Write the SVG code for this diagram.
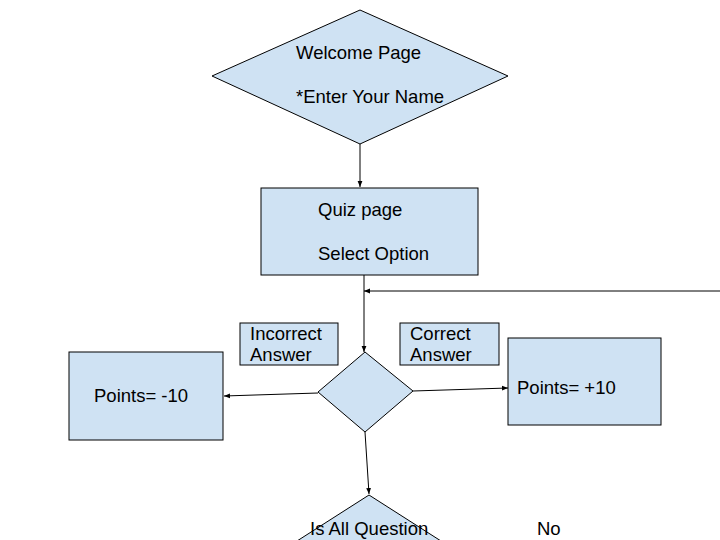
<svg xmlns="http://www.w3.org/2000/svg" width="720" height="540" viewBox="0 0 720 540">
<defs>
<style>
.n{fill:#cfe2f3;stroke:#000;stroke-width:1}
.t{font-family:"Liberation Sans",Arial,sans-serif;font-size:18.5px;fill:#000}
.c{fill:none;stroke:#000;stroke-width:1}
</style>
<marker id="ah" viewBox="0 0 10 10" refX="10" refY="5" markerWidth="6" markerHeight="6" orient="auto" markerUnits="userSpaceOnUse">
<path d="M0,1 L10,5 L0,9 Z" fill="#000"/>
</marker>
</defs>
<rect width="720" height="540" fill="#fff"/>
<g id="connectors">
<line class="c" x1="360" y1="144" x2="360" y2="187" marker-end="url(#ah)"/>
<line class="c" x1="364" y1="275" x2="364" y2="352" marker-end="url(#ah)"/>
<line class="c" x1="720" y1="291" x2="364" y2="291" marker-end="url(#ah)"/>
<line class="c" x1="318" y1="393" x2="224" y2="396" marker-end="url(#ah)"/>
<line class="c" x1="413" y1="391" x2="508" y2="388" marker-end="url(#ah)"/>
<line class="c" x1="365" y1="432" x2="369" y2="494" marker-end="url(#ah)"/>
</g>
<g id="welcome">
<polygon class="n" points="360,10 508,76 360,144 212,76"/>
<text class="t" x="296" y="59">Welcome Page</text>
<text class="t" x="296" y="103">*Enter Your Name</text>
</g>
<g id="quiz">
<rect class="n" x="261" y="188" width="217" height="87"/>
<text class="t" x="318" y="216">Quiz page</text>
<text class="t" x="318" y="260">Select Option</text>
</g>
<g id="incorrect">
<rect class="n" x="240" y="323" width="98" height="42"/>
<text class="t" x="250" y="340">Incorrect</text>
<text class="t" x="250" y="361">Answer</text>
</g>
<g id="correct">
<rect class="n" x="400" y="323" width="99" height="42"/>
<text class="t" x="410" y="340">Correct</text>
<text class="t" x="410" y="361">Answer</text>
</g>
<g id="decision">
<polygon class="n" points="365,352 413,391 365,432 318,392"/>
</g>
<g id="minus">
<rect class="n" x="69" y="352" width="154" height="88"/>
<text class="t" x="94" y="402">Points= -10</text>
</g>
<g id="plus">
<rect class="n" x="508" y="338" width="153" height="87"/>
<text class="t" x="517" y="394">Points= +10</text>
</g>
<g id="allq">
<polygon class="n" points="369,495 513,587 369,679 225,587"/>
<text class="t" x="310" y="535">Is All Question</text>
</g>
<g id="no">
<text class="t" x="537" y="535">No</text>
</g>
</svg>
